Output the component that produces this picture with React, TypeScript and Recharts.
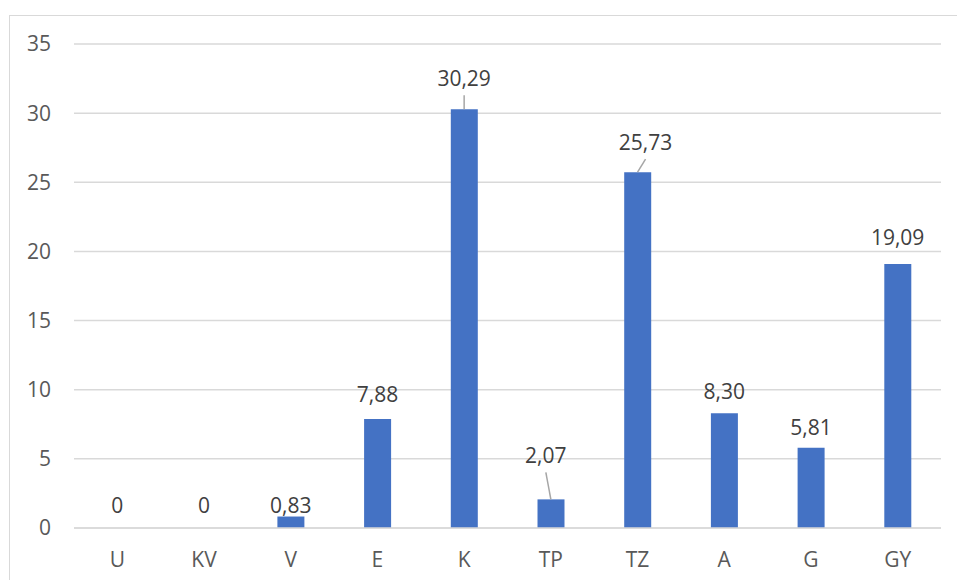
import React from 'react';
import { ComposedChart, Bar, Line, XAxis, YAxis, CartesianGrid } from 'recharts';

const categories = ['U', 'KV', 'V', 'E', 'K', 'TP', 'TZ', 'A', 'G', 'GY'];
const values = [0, 0, 0.83, 7.88, 30.29, 2.07, 25.73, 8.3, 5.81, 19.09];
const yTicks = [0, 5, 10, 15, 20, 25, 30, 35];

// label placement (moved by hand in the original), in px
const LABEL_LIFT = [23, 23, 12, 25, 31, 44, 30, 22, 21, 27];
const LABEL_DX = [0, 0, 0, 0, 0, -5, 8, 0, 0, 0];
const LEADER = [false, false, false, false, true, true, true, false, false, false];

const data = categories.map((name, i) => ({ name, value: values[i] }));

const fmt = (v: number) => (v === 0 ? '0' : v.toFixed(2).replace('.', ','));

const FONT = '"Open Sans", sans-serif';
const FONT_SIZE = 21;

// drawn on an invisible line so that zero values get a label too
const ValueLabel = (props: any) => {
    const { x, y, value, index } = props;
    const bx = Number(x);
    const top = Number(y);
    const cx = bx + LABEL_DX[index];
    const cy = top - LABEL_LIFT[index];
    return (
        <g key={`lbl-${index}`}>
            {LEADER[index] && (
                <line x1={cx} y1={cy + 17} x2={bx} y2={top} stroke="#a6a6a6" strokeWidth={1.5} />
            )}
            <text
                x={cx}
                y={cy}
                textAnchor="middle"
                dominantBaseline="central"
                fill="#404040"
                fontSize={FONT_SIZE}
                fontFamily={FONT}
            >
                {fmt(value)}
            </text>
        </g>
    );
};

const App = () => {
    return (
        <div style={{ position: 'absolute', left: 0, top: 0, width: 957, height: 580, background: '#fff', overflow: 'hidden' }}>
            <div
                style={{
                    position: 'absolute',
                    left: 9,
                    top: 15,
                    width: 970,
                    height: 600,
                    border: '1.5px solid #d9d9d9',
                    boxSizing: 'border-box',
                }}
            />
            <div style={{ position: 'absolute', left: 0, top: 0 }}>
                <ComposedChart
                    width={957}
                    height={580}
                    data={data}
                    margin={{ top: 44, right: 16, left: 14, bottom: 12 }}
                    barSize={27}
                >
                    <CartesianGrid vertical={false} stroke="#d9d9d9" strokeWidth={1.5} />
                    <XAxis
                        dataKey="name"
                        height={40}
                        tickLine={false}
                        tickSize={0}
                        tickMargin={24}
                        axisLine={{ stroke: '#d9d9d9', strokeWidth: 1.5 }}
                        tick={{ fill: '#595959', fontSize: FONT_SIZE, fontFamily: FONT }}
                    />
                    <YAxis
                        width={60}
                        domain={[0, 35]}
                        ticks={yTicks}
                        interval={0}
                        axisLine={false}
                        tickLine={false}
                        tickSize={0}
                        tickMargin={23}
                        tick={{ fill: '#595959', fontSize: FONT_SIZE, fontFamily: FONT }}
                    />
                    <Bar dataKey="value" fill="#4472C4" isAnimationActive={false} />
                    <Line
                        dataKey="value"
                        stroke="none"
                        dot={false}
                        activeDot={false}
                        legendType="none"
                        label={ValueLabel}
                        isAnimationActive={false}
                    />
                </ComposedChart>
            </div>
        </div>
    );
};

export default App;
